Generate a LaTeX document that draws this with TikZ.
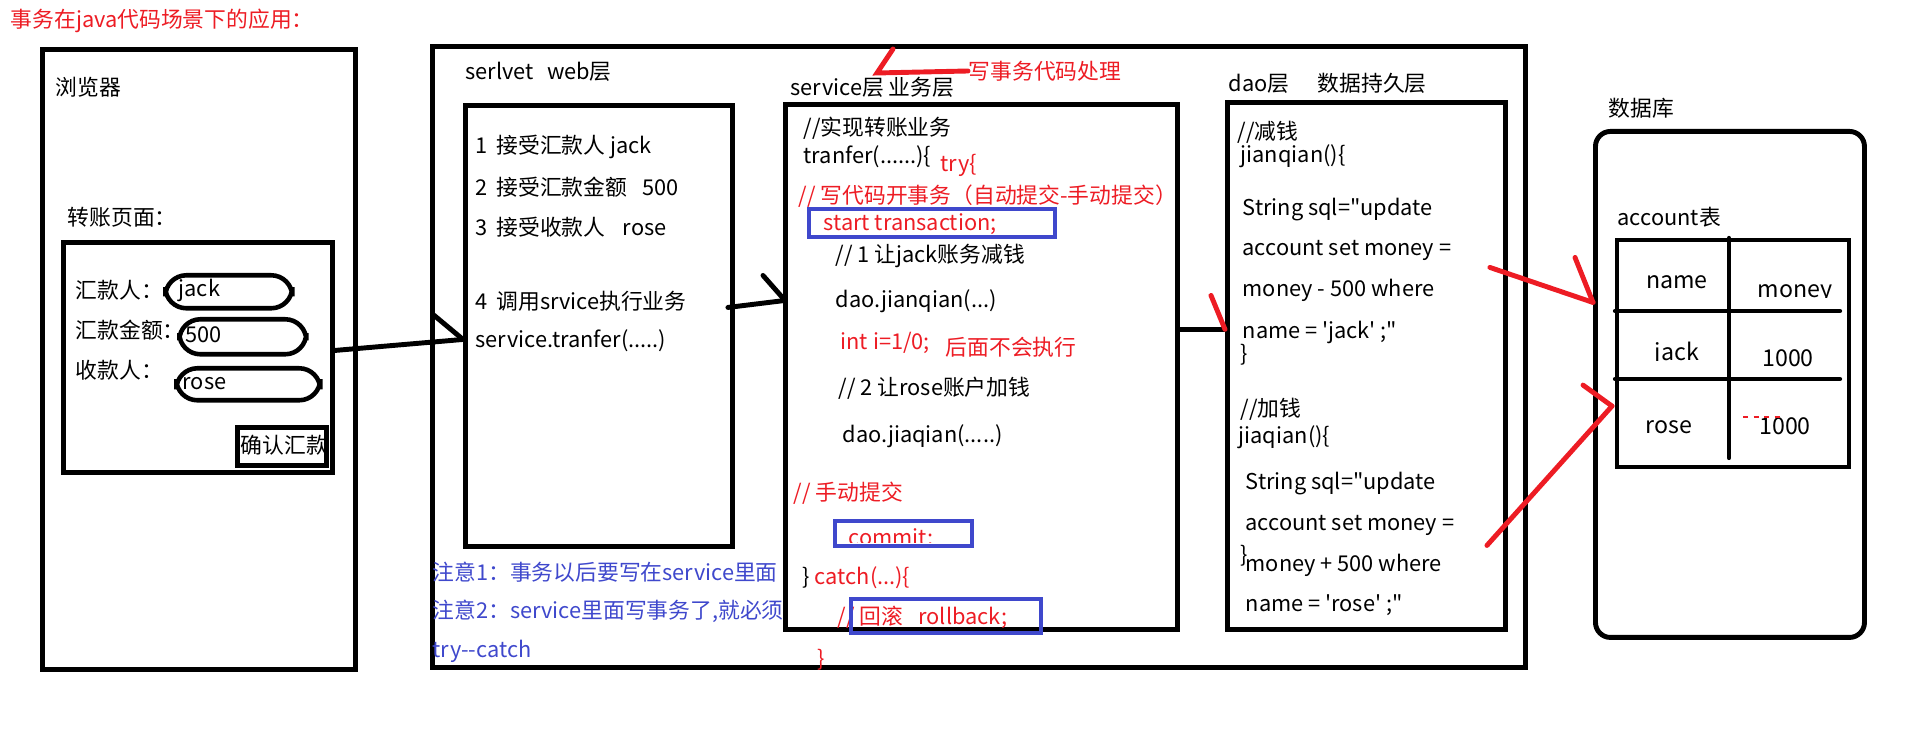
\documentclass[tikz,border=0pt]{standalone}
\usepackage{fontspec}
\setmainfont{Noto Sans CJK SC}[Ligatures=TeXOff]
\usetikzlibrary{arrows.meta,positioning,calc}
\definecolor{penred}{RGB}{237,28,36}
\definecolor{penblue}{RGB}{63,72,204}

\begin{document}
\begin{tikzpicture}[
    y=-1cm,
    box/.style={draw, line width=1.4pt, anchor=north west, inner sep=0pt},
    field/.style={draw, line width=1.3pt, rounded corners=6pt, anchor=north west, inner sep=0pt},
    markbox/.style={draw=penblue, line width=1.1pt, anchor=north west, inner sep=0pt},
    txt/.style={anchor=west, inner sep=0pt, font=\fontsize{6.2}{7}\selectfont},
    redtxt/.style={txt, text=penred},
    note/.style={txt, text=penblue},
    cell/.style={anchor=center, inner sep=0pt, font=\fontsize{6.6}{7}\selectfont},
    wire/.style={line width=1.4pt, line cap=round},
    pen/.style={penred, line width=1.4pt, line cap=round}
]
    \useasboundingbox (0,0) rectangle (19.14,7.46);

    \node[redtxt] (title) at (0.10,0.21) {事务在java代码场景下的应用：};

    % browser
    \node[box, minimum width=3.13cm, minimum height=6.20cm] (browser) at (0.40,0.47) {};
    \node[txt] (browser_lbl) at (0.55,0.87) {浏览器};
    \node[txt] (page_lbl) at (0.67,2.17) {转账页面：};
    \node[box, minimum width=2.69cm, minimum height=2.30cm] (form) at (0.61,2.40) {};

    \node[txt] (payer_lbl) at (0.75,2.90) {汇款人：};
    \node[field, minimum width=1.27cm, minimum height=0.33cm] (payer) at (1.63,2.73) {};
    \node[txt] (payer_val) at (1.78,2.90) {jack};
    \node[txt] (amount_lbl) at (0.75,3.30) {汇款金额：};
    \node[field, minimum width=1.27cm, minimum height=0.35cm] (amount) at (1.77,3.17) {};
    \node[txt] (amount_val) at (1.85,3.35) {500};
    \node[txt] (payee_lbl) at (0.75,3.70) {收款人：};
    \node[field, minimum width=1.44cm, minimum height=0.32cm] (payee) at (1.74,3.66) {};
    \node[txt] (payee_val) at (1.82,3.84) {rose};

    \begin{scope}
        \clip (2.35,4.25) rectangle (3.24,4.63);
        \node[txt] (confirm_lbl) at (2.40,4.45) {确认汇款};
    \end{scope}
    \node[box, line width=1.3pt, minimum width=0.89cm, minimum height=0.38cm] (confirm) at (2.35,4.25) {};

    % server side
    \node[box, minimum width=10.93cm, minimum height=6.21cm] (server) at (4.30,0.44) {};

    % web layer
    \node[txt] (web_lbl) at (4.65,0.72) {serlvet\hspace{0.6em}web层};
    \node[box, minimum width=2.67cm, minimum height=4.41cm] (web) at (4.63,1.03) {};
    \node[txt] (web_l1) at (4.75,1.47) {1\hspace{0.4em}接受汇款人 jack};
    \node[txt] (web_l2) at (4.75,1.87) {2\hspace{0.4em}接受汇款金额\hspace{0.7em}500};
    \node[txt] (web_l3) at (4.75,2.27) {3\hspace{0.4em}接受收款人\hspace{0.8em}rose};
    \node[txt] (web_l4) at (4.75,3.01) {4\hspace{0.4em}调用srvice执行业务};
    \node[txt] (web_l5) at (4.75,3.41) {service.tranfer(.....)};

    \node[note] (note1) at (4.32,5.72) {注意1：事务以后要写在service里面};
    \node[note] (note2) at (4.32,6.11) {注意2：service里面写事务了,就必须};
    \node[note] (note3) at (4.32,6.51) {try--catch};

    % service layer
    \node[txt] (svc_lbl) at (7.90,0.87) {service层 业务层};
    \node[redtxt] (todo_lbl) at (9.68,0.71) {写事务代码处理};
    \coordinate (svc_mark) at (8.77,0.73);
    \draw[pen] (todo_lbl.west) -- (svc_mark) -- ++(0.16,-0.24);

    \node[box, minimum width=3.92cm, minimum height=5.25cm] (svc) at (7.83,1.02) {};
    \node[txt] (svc_l1) at (8.03,1.28) {//实现转账业务};
    \node[txt] (svc_l2) at (8.03,1.57) {tranfer(......)\{};
    \node[redtxt] (svc_try) at (9.40,1.65) {try\{};
    \node[redtxt] (svc_l3) at (7.98,1.96) {// 写代码开事务（自动提交-手动提交）};
    \node[redtxt] (svc_start) at (8.23,2.24) {start transaction;};
    \node[markbox, minimum width=2.46cm, minimum height=0.28cm] (start_box) at (8.07,2.07) {};
    \node[txt] (svc_l4) at (8.35,2.56) {// 1 让jack账务减钱};
    \node[txt] (svc_l5) at (8.35,3.01) {dao.jianqian(...)};
    \node[redtxt] (svc_err) at (8.40,3.43) {int i=1/0;};
    \node[redtxt] (svc_skip) at (9.45,3.47) {后面不会执行};
    \node[txt] (svc_l6) at (8.38,3.88) {// 2 让rose账户加钱};
    \node[txt] (svc_l7) at (8.42,4.36) {dao.jiaqian(.....)};
    \node[redtxt] (svc_l8) at (7.93,4.93) {// 手动提交};
    \begin{scope}
        \clip (8.40,5.10) rectangle (9.60,5.43);
        \node[redtxt, anchor=base west] (svc_commit) at (8.48,5.46) {commit;};
    \end{scope}
    \node[markbox, minimum width=1.37cm, minimum height=0.25cm] (commit_box) at (8.33,5.19) {};
    \node[redtxt] (svc_catch) at (8.02,5.78) {\textcolor{black}{\}} catch(...)\{};
    \node[redtxt] (svc_back) at (8.37,6.17) {// 回滚\hspace{0.7em}rollback;};
    \node[markbox, minimum width=1.90cm, minimum height=0.34cm] (back_box) at (8.49,5.97) {};
    \node[redtxt] (svc_end) at (8.17,6.60) {\}};

    % dao layer
    \node[txt] (dao_lbl) at (12.28,0.83) {dao层\hspace{1.3em}数据持久层};
    \node[box, minimum width=2.78cm, minimum height=5.27cm] (dao) at (12.25,1.00) {};
    \node[txt] (dao_l1) at (12.37,1.32) {//减钱};
    \node[txt] (dao_l2) at (12.40,1.56) {jianqian()\{};
    \node[txt] (dao_l3) at (12.42,2.10) {String sql="update};
    \node[txt] (dao_l4) at (12.42,2.50) {account set money =};
    \node[txt] (dao_l5) at (12.42,2.90) {money - 500 where};
    \node[txt] (dao_l6) at (12.42,3.32) {name = 'jack' ;"};
    \node[txt] (dao_l7) at (12.40,3.55) {\}};
    \node[txt] (dao_l8) at (12.40,4.09) {//加钱};
    \node[txt] (dao_l9) at (12.38,4.37) {jiaqian()\{};
    \node[txt] (dao_l10) at (12.45,4.84) {String sql="update};
    \node[txt] (dao_l11) at (12.45,5.25) {account set money =};
    \node[txt] (dao_l12) at (12.40,5.56) {\}};
    \node[txt] (dao_l13) at (12.45,5.65) {money + 500 where};
    \node[txt] (dao_l14) at (12.45,6.05) {name = 'rose' ;"};

    % database
    \node[txt] (db_lbl) at (16.08,1.08) {数据库};
    \node[box, rounded corners=0.15cm, minimum width=2.69cm, minimum height=5.06cm] (db) at (15.93,1.29) {};
    \node[txt] (table_lbl) at (16.17,2.17) {account表};
    \node[box, line width=1.2pt, minimum width=2.32cm, minimum height=2.27cm] (table) at (16.15,2.38) {};
    \draw[line width=1.2pt, line cap=round] ($(table.north west)+(1.14,0)$) -- ++(0,2.20);
    \draw[line width=1.2pt, line cap=round] ($(table.north west)+(0,0.73)$) -- ++(2.25,0);
    \draw[line width=1.2pt, line cap=round] ($(table.north west)+(0,1.41)$) -- ++(2.25,0);

    \node[cell] (col_name) at (16.77,2.82) {name};
    \begin{scope}
        \clip (17.35,2.60) rectangle (18.40,2.975);
        \node[cell, anchor=base] (col_money) at (17.95,2.98) {money};
    \end{scope}
    \begin{scope}
        \clip (16.40,3.25) rectangle (17.10,3.605);
        \node[cell, anchor=base] (row1_name) at (16.77,3.61) {jack};
    \end{scope}
    \node[cell] (row1_money) at (17.88,3.58) {1000};
    \node[cell] (row2_name) at (16.69,4.27) {rose};
    \node[cell] (row2_money) at (17.85,4.26) {1000};
    \draw[penred, line width=0.4pt, dash pattern=on 1.5pt off 1.5pt] (17.43,4.17) -- (17.80,4.17);

    % connectors
    \coordinate (form_out) at ($(form.east)+(0,-0.07)$);
    \coordinate (web_in)   at ($(web.west)+(0,0.135)$);
    \coordinate (web_out)  at ($(web.east)+(-0.07,-0.185)$);
    \coordinate (svc_in)   at ($(svc.west)+(0.02,-0.665)$);
    \coordinate (svc_out)  at ($(svc.east)+(0,-0.375)$);
    \coordinate (dao_in)   at (svc_out -| dao.west);
    \coordinate (dao_up)   at ($(dao.east)+(-0.18,-0.985)$);
    \coordinate (dao_down) at ($(dao.east)+(-0.21,1.795)$);
    \coordinate (db_in)    at ($(db.west)+(0,-0.82)$);
    \coordinate (table_in) at ($(table.west)+(-0.03,0.525)$);

    \draw[wire] (form_out) -- (web_in);
    \draw[wire] ($(web_in)+(-0.30,-0.25)$) -- (web_in);

    \draw[wire] (web_out) -- (svc_in);
    \draw[wire] ($(svc_in)+(-0.22,-0.25)$) -- (svc_in);

    \draw[wire] (svc_out) -- (dao_in);
    \draw[pen] ($(dao_in)+(-0.14,-0.34)$) -- (dao_in);

    \draw[pen] (dao_up) -- (db_in);
    \draw[pen] ($(db_in)+(-0.18,-0.45)$) -- (db_in);

    \draw[pen] (dao_down) -- (table_in);
    \draw[pen] ($(table_in)+(-0.29,-0.21)$) -- (table_in);

\end{tikzpicture}
\end{document}
